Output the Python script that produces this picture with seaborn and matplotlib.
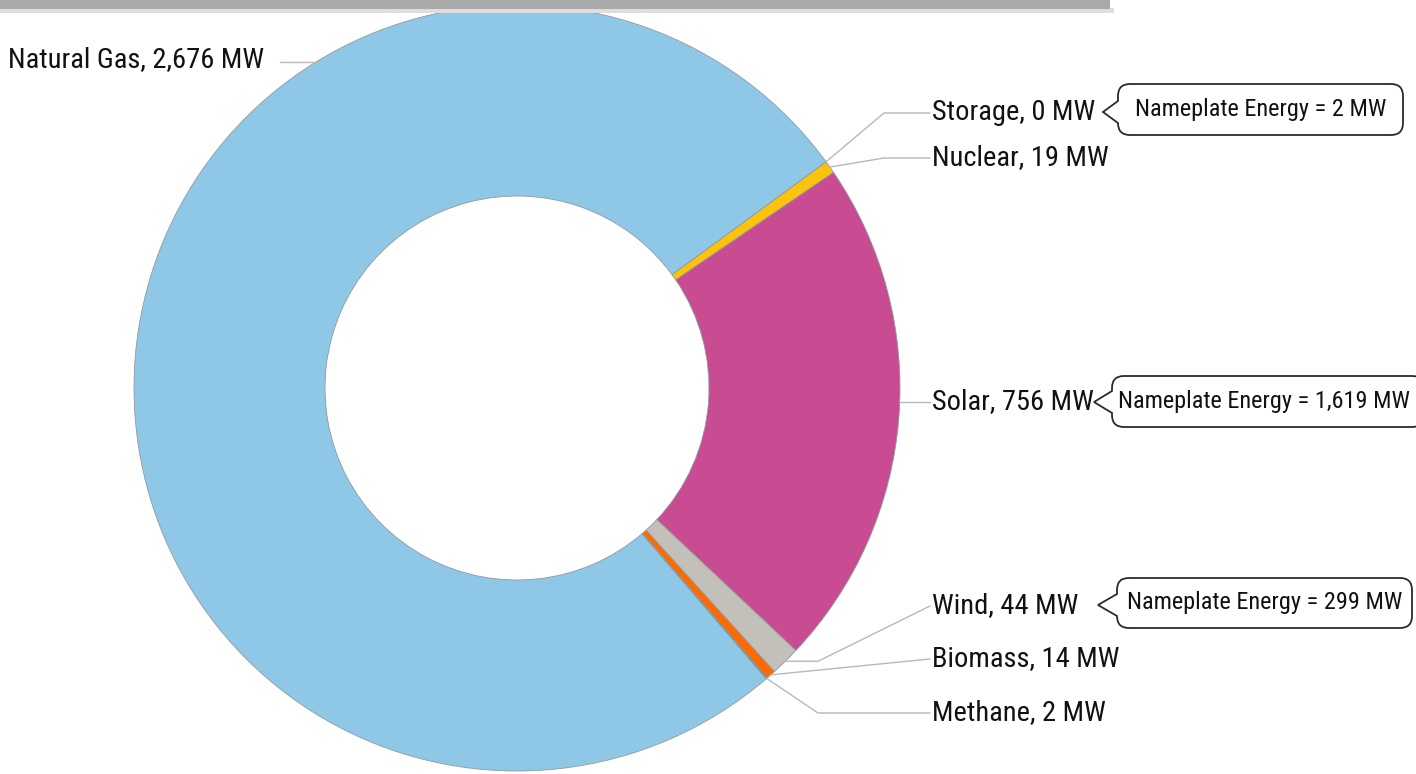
import numpy as np
import pandas as pd
import matplotlib
matplotlib.use("Agg")
import matplotlib.pyplot as plt
import seaborn as sns
from matplotlib.patches import Rectangle, PathPatch
from matplotlib.path import Path
from matplotlib import font_manager as fm

# ---------------- data ----------------
categories = ["Storage", "Nuclear", "Solar", "Wind", "Biomass", "Methane", "Natural Gas"]
values = [0, 19, 756, 44, 14, 2, 2676]
colors = ["#5B7F3A", "#FBC30C", "#C94B91", "#C3C0B9", "#FF6A00", "#2A8C9C", "#8FC8E6"]
nameplate_categories = ["Storage", "Solar", "Wind"]
nameplate_values = [2, 1619, 299]

df = pd.DataFrame({"category": categories, "mw": values, "color": colors})

# ---------------- style ----------------
sns.set_theme(style="white")


def pick(cands):
    for c in cands:
        try:
            fm.findfont(fm.FontProperties(family=c), fallback_to_default=False)
            return c
        except Exception:
            pass
    return "DejaVu Sans"


FONT = pick(["Liberation Sans Narrow", "Roboto Condensed", "DejaVu Sans"])
plt.rcParams["font.family"] = [FONT, "DejaVu Sans"]

W, H = 1416, 774
fig = plt.figure(figsize=(W / 100, H / 100), dpi=100)
ax = fig.add_axes([0, 0, 1, 1])

CX, CY_PX, R = 517, 388, 383
RING = 191

wedges, _ = ax.pie(
    df["mw"], colors=df["color"], startangle=36.2, counterclock=False,
    radius=R, center=(CX, H - CY_PX),
    wedgeprops=dict(width=RING, edgecolor="#8f9aa0", linewidth=0.6),
)
ax.set_xlim(0, W)
ax.set_ylim(0, H)
ax.set_aspect("auto")
ax.axis("off")

# top decorative bar (edge of a title box)
ax.add_patch(Rectangle((0, H - 13), 1114, 5, color="#dedede", lw=0, zorder=5))
ax.add_patch(Rectangle((0, H - 9), 1110, 9, color="#a9a9a9", lw=0, zorder=6))

LINE_C = "#b8b8b8"


def py(y):
    return H - y


def wedge_anchor(name):
    w = wedges[categories.index(name)]
    a = np.deg2rad((w.theta1 + w.theta2) / 2)
    return CX + R * np.cos(a), CY_PX - R * np.sin(a)


def arc_at_y(y, side):
    dx = np.sqrt(R ** 2 - (y - CY_PX) ** 2)
    return CX + side * dx, y


LABEL_X = 932
label_y = {"Storage": 113, "Nuclear": 158, "Solar": 402, "Wind": 606,
           "Biomass": 659, "Methane": 713}

for name, val in zip(categories, values):
    text = f"{name}, {val:,} MW"
    if name == "Natural Gas":
        ay = 62
        ax_, ay_ = arc_at_y(ay, -1)
        pts = [(280, ay), (ax_, ay_)]
        ax.text(8, py(60), text, ha="left", va="center", fontsize=20.5, color="#111111")
    else:
        ly = label_y[name]
        if name == "Solar":
            anc = arc_at_y(ly, 1)
            pts = [anc, (LABEL_X - 2, ly)]
        else:
            anc = wedge_anchor(name)
            if name in ("Storage", "Nuclear"):
                pts = [anc, (884, ly), (LABEL_X - 2, ly)]
            elif name == "Wind":
                pts = [anc, (818, anc[1]), (LABEL_X - 2, ly)]
            elif name == "Biomass":
                pts = [anc, (LABEL_X - 2, ly)]
            else:
                pts = [anc, (818, ly), (LABEL_X - 2, ly)]
        ax.text(LABEL_X, py(ly), text, ha="left", va="center", fontsize=20.5, color="#111111")
    xs = [p[0] for p in pts]
    ys = [py(p[1]) for p in pts]
    ax.plot(xs, ys, color=LINE_C, lw=1.0, zorder=3)


# callouts
callout_boxes = {"Storage": (1118, 84, 1403, 135, 1103, 112),
                 "Solar": (1112, 376, 1424, 427, 1094, 402),
                 "Wind": (1117, 578, 1412, 628, 1098, 605)}


def callout(x0, y0, x1, y1, tx, ty, r=12, h=11):
    verts = [
        (x0 + r, y0), (x1 - r, y0), (x1, y0), (x1, y0 + r),
        (x1, y1 - r), (x1, y1), (x1 - r, y1),
        (x0 + r, y1), (x0, y1), (x0, y1 - r),
        (x0, ty + h), (tx, ty), (x0, ty - h),
        (x0, y0 + r), (x0, y0), (x0 + r, y0),
    ]
    codes = [Path.MOVETO, Path.LINETO, Path.CURVE3, Path.CURVE3,
             Path.LINETO, Path.CURVE3, Path.CURVE3,
             Path.LINETO, Path.CURVE3, Path.CURVE3,
             Path.LINETO, Path.LINETO, Path.LINETO,
             Path.LINETO, Path.CURVE3, Path.CURVE3]
    verts = [(vx, py(vy)) for vx, vy in verts]
    return Path(verts, codes)


for name, nv in zip(nameplate_categories, nameplate_values):
    x0, y0, x1, y1, tx, ty = callout_boxes[name]
    p = callout(x0, y0, x1, y1, tx, ty)
    ax.add_patch(PathPatch(p, facecolor="white", edgecolor="#2b2b2b", lw=1.3, zorder=4))
    cx_text = (x0 + min(x1, W)) / 2 if name != "Solar" else (x0 + W) / 2
    ax.text(cx_text, py((y0 + y1) / 2), f"Nameplate Energy = {nv:,} MW",
            ha="center", va="center", fontsize=17.5, color="#111111", zorder=5)

fig.savefig("out.png", dpi=100)
